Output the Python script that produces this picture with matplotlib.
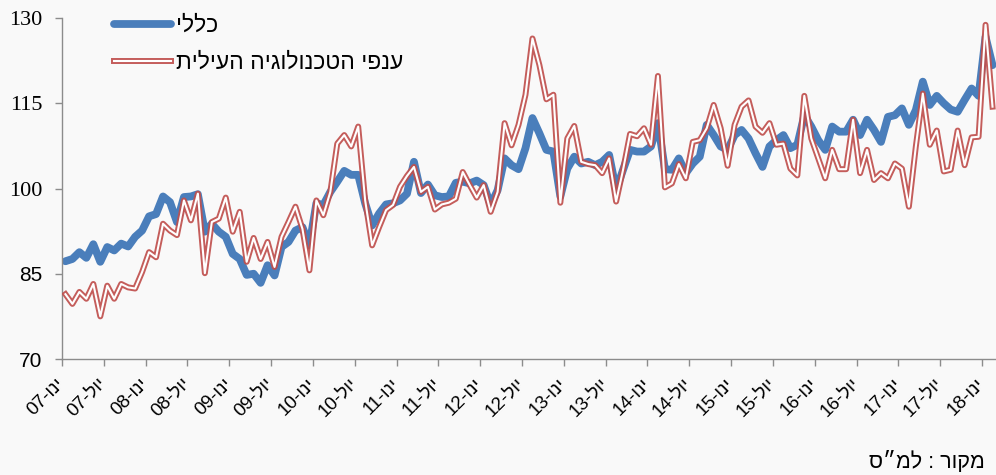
import matplotlib

matplotlib.use("Agg")
import matplotlib.pyplot as plt
import matplotlib.patheffects as pe

# monthly index values, Jan 2007 .. Feb 2018
general = [
    87.2, 87.6, 88.8, 87.8, 90.2, 87.1, 89.7, 89.1, 90.3, 89.8, 91.5, 92.6,
    95.1, 95.5, 98.6, 97.6, 94.1, 98.5, 98.6, 99.0, 92.4, 93.8, 92.4, 91.5,
    88.5, 87.6, 84.8, 85.0, 83.4, 86.5, 84.7, 89.7, 90.6, 92.6, 93.2, 90.0,
    97.4, 97.1, 99.4, 101.2, 103.1, 102.4, 102.4, 97.4, 93.5, 95.6, 97.2, 97.4,
    97.9, 99.1, 104.7, 99.2, 100.7, 98.8, 98.5, 98.6, 101.0, 101.2, 100.9, 101.4,
    100.6, 97.1, 99.7, 105.3, 104.1, 103.4, 107.1, 112.4, 109.7, 106.8, 106.5, 98.6,
    103.5, 105.6, 104.4, 104.7, 104.1, 104.7, 105.9, 99.7, 103.3, 106.8, 106.5, 106.5,
    107.4, 111.5, 103.4, 103.3, 105.3, 102.7, 104.4, 105.6, 111.2, 109.4, 107.4, 106.8,
    109.4, 110.3, 108.8, 106.2, 103.8, 107.4, 108.5, 109.4, 107.1, 107.7, 112.9, 110.9,
    108.5, 106.8, 110.9, 110.0, 110.0, 112.1, 109.4, 112.1, 110.3, 108.2, 112.6, 112.9,
    114.1, 111.2, 113.8, 118.8, 114.7, 116.3, 115.0, 113.9, 113.5, 115.6, 117.6, 116.3,
    126.7, 121.7,
]
hitech = [
    81.4, 79.7, 81.8, 80.6, 83.2, 77.5, 82.9, 80.6, 83.2, 82.6, 82.4, 85.3,
    88.8, 87.9, 93.8, 92.6, 91.8, 97.9, 94.4, 99.1, 85.1, 94.1, 94.7, 98.4,
    92.4, 95.9, 87.1, 91.3, 87.6, 90.6, 86.2, 91.5, 94.1, 96.8, 92.9, 85.6,
    97.9, 95.3, 99.4, 107.9, 109.4, 107.4, 110.9, 97.9, 90.0, 93.2, 96.2, 97.1,
    100.3, 102.2, 103.8, 99.4, 100.3, 96.3, 97.2, 97.5, 98.2, 102.9, 100.6, 98.4,
    100.6, 95.9, 99.4, 111.5, 107.6, 111.2, 116.5, 126.4, 121.7, 115.7, 116.5, 97.5,
    108.8, 111.0, 104.7, 104.3, 104.1, 102.7, 105.3, 97.7, 103.3, 109.6, 109.2, 110.6,
    107.7, 119.8, 100.2, 100.9, 104.3, 101.8, 108.2, 108.5, 110.6, 114.7, 110.6, 104.0,
    111.2, 114.4, 115.5, 110.9, 109.8, 111.5, 107.7, 107.9, 103.5, 102.3, 116.3, 108.8,
    105.3, 101.8, 106.8, 103.4, 103.4, 112.1, 102.7, 106.8, 101.5, 102.7, 101.8, 104.4,
    103.5, 96.8, 107.4, 116.7, 107.7, 110.2, 103.0, 103.3, 110.2, 104.1, 109.0, 109.1,
    128.8, 114.4,
]
years = ["07", "08", "09", "10", "11", "12", "13", "14", "15", "16", "17", "18"]
months_heb = ["ינו", "יול"]
yticks = [70, 85, 100, 115, 130]
label_general = "כללי"
label_hitech = "ענפי הטכנולוגיה העילית"
source_note = "מקור : למ״ס"


def vis(s):
    # matplotlib has no bidi, so feed hebrew in visual order
    return s[::-1]


tick_labels = []
for y in years:
    for m in months_heb:
        tick_labels.append(f"{y}-{vis(m)}")
tick_labels = tick_labels[:23]

plt.rcParams["font.family"] = ["Liberation Sans", "DejaVu Sans"]

bg = "#f9f9f9"
blue = "#4a7ebb"
red = "#c0504d"
axis_gray = "#8c8c8c"

fig = plt.figure(figsize=(9.96, 4.75), dpi=100, facecolor=bg)
ax = fig.add_axes([0.0622, 0.2442, 0.9378, 0.7179], facecolor=bg)

x = list(range(len(general)))
ax.plot(x, general, color=blue, lw=5.6, solid_joinstyle="round", solid_capstyle="round",
        zorder=2, label=vis(label_general))
# double line: thin white core with a red stroke around it
ax.plot(x, hitech, color="white", lw=1.5, solid_joinstyle="round", zorder=3,
        label=vis(label_hitech),
        path_effects=[pe.Stroke(linewidth=4.3, foreground=red, alpha=0.92), pe.Normal()])

ax.set_xlim(-0.5, len(general) - 0.5)
ax.set_ylim(70, 130)
ax.set_yticks(yticks)
ax.set_yticklabels([str(v) for v in yticks], fontsize=15)
# the top labels are drawn in a serif face in the original
for lab in ax.get_yticklabels():
    if lab.get_text() in ("100", "115", "130"):
        lab.set_fontfamily(["Liberation Serif", "DejaVu Serif"])
        lab.set_fontsize(16)
ax.set_xticks([-0.5 + 6 * k for k in range(len(tick_labels))])
ax.set_xticklabels(tick_labels, fontsize=13.5, rotation=45, ha="right", va="center",
                   rotation_mode="anchor")

for s in ["top", "right"]:
    ax.spines[s].set_visible(False)
for s in ["left", "bottom"]:
    ax.spines[s].set_color(axis_gray)
    ax.spines[s].set_linewidth(1.0)
ax.tick_params(axis="both", color=axis_gray, length=5, width=1.0, direction="out")
ax.tick_params(axis="y", pad=9)
ax.tick_params(axis="x", pad=11)

fig.legend(loc="upper left", bbox_to_anchor=(114 / 996, 1 - 14 / 475),
           frameon=False, fontsize=16.5, handlelength=2.5, handletextpad=0.2,
           labelspacing=0.6, borderpad=0, borderaxespad=0)

fig.text(985 / 996, 1 - 462 / 475, vis(source_note), ha="right", va="center", fontsize=15.5)

fig.savefig("out.png", dpi=100, facecolor=bg)
